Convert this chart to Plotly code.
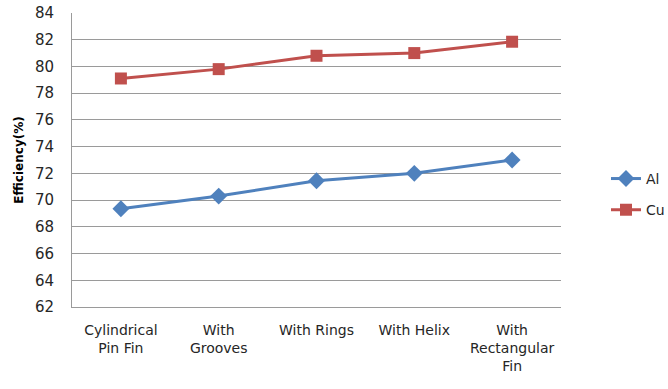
import plotly.graph_objects as go

# Fin geometries compared and measured efficiency for each material
categories = ["Cylindrical<br>Pin Fin", "With<br>Grooves", "With Rings", "With Helix", "With<br>Rectangular<br>Fin"]
al_efficiency = [69.35, 70.3, 71.45, 72.0, 73.0]
cu_efficiency = [79.1, 79.8, 80.8, 81.0, 81.85]
y_ticks = list(range(62, 85, 2))

font_family = "DejaVu Sans, Verdana, sans-serif"
text_color = "#262626"
grid_color = "#9a9a9a"

fig = go.Figure()
fig.add_trace(go.Scatter(
    x=categories, y=al_efficiency, name="Al", mode="lines+markers",
    line=dict(color="#4F81BD", width=3),
    marker=dict(symbol="diamond", size=13, color="#4F81BD"),
    legendgroup="al",
))
fig.add_trace(go.Scatter(
    x=categories, y=cu_efficiency, name="Cu", mode="lines+markers",
    line=dict(color="#C0504D", width=3),
    marker=dict(symbol="square", size=12, color="#C0504D"),
    legendgroup="cu",
))

fig.update_layout(
    width=668, height=389,
    margin=dict(l=72, r=107, t=13, b=82, autoexpand=False),
    paper_bgcolor="white", plot_bgcolor="white",
    font=dict(family=font_family, size=14, color=text_color),
    showlegend=True,
    legend=dict(
        x=1.092, y=0.49, xanchor="left", yanchor="top",
        font=dict(size=14, color=text_color),
        tracegroupgap=10,
        bgcolor="rgba(0,0,0,0)",
    ),
    xaxis=dict(
        type="category",
        showgrid=False,
        showline=True, linecolor=grid_color, linewidth=1,
        ticks="", ticklabelstandoff=10,
        tickfont=dict(size=14, color=text_color),
        range=[-0.5, 4.5], automargin=False,
    ),
    yaxis=dict(
        range=[62, 84], tickvals=y_ticks,
        showgrid=True, gridcolor=grid_color, gridwidth=1,
        showline=True, linecolor=grid_color, linewidth=1,
        ticks="", ticklabelstandoff=14,
        tickfont=dict(size=15, color=text_color),
        zeroline=False, automargin=False,
        title=dict(text="<b>Efficiency(%)</b>", font=dict(size=12, color="#000000"), standoff=8),
    ),
)

fig.write_html("out.html")
